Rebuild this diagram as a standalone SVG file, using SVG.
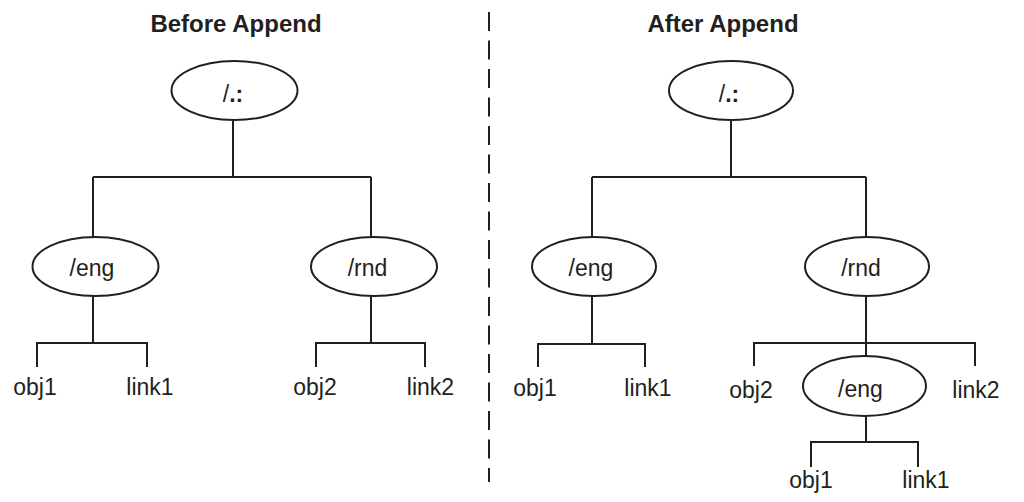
<svg xmlns="http://www.w3.org/2000/svg" width="1024" height="502" viewBox="0 0 1024 502">
<style>
.bg{fill:#ffffff}
.node{fill:#ffffff;stroke:#231f20;stroke-width:2}
.conn{fill:none;stroke:#231f20;stroke-width:2}
.dash{fill:none;stroke:#231f20;stroke-width:2;stroke-dasharray:19 9.5}
text{font-family:"Liberation Sans",Arial,sans-serif;font-size:23px;fill:#231f20;text-anchor:middle}
.title{font-weight:bold;font-size:24px}
.b{font-weight:bold}
</style>
<rect class="bg" x="0" y="0" width="1024" height="502"/>
<text class="title" x="236" y="32">Before Append</text>
<text class="title" x="723" y="32">After Append</text>
<line class="dash" x1="489" y1="12" x2="489" y2="482"/>
<g id="connectors">
<path class="conn" d="M233,120 V177 M93,177 H371 M93,177 V237 M371,177 V237"/>
<path class="conn" d="M93,296 V343 M37,343 H147 M37,342 V367 M147,342 V367"/>
<path class="conn" d="M371,296 V343 M316,343 H425 M316,342 V367 M425,342 V367"/>
<path class="conn" d="M731,120 V177 M592,177 H866 M592,177 V237 M866,177 V237"/>
<path class="conn" d="M592,296 V344 M538,344 H645 M538,343 V367 M645,343 V367"/>
<path class="conn" d="M866,296 V356 M754,343 H975 M754,342 V366 M975,342 V366"/>
<path class="conn" d="M866,416 V442 M811,442 H918 M811,441 V467 M918,441 V467"/>
</g>
<g id="root-before">
<ellipse class="node" cx="234.5" cy="90.5" rx="63" ry="29.5"/>
<text x="233" y="102">/<tspan class="b">.:</tspan></text>
</g>
<g id="eng-before">
<ellipse class="node" cx="95.5" cy="266.5" rx="63" ry="29.5"/>
<text x="92" y="276">/eng</text>
</g>
<g id="rnd-before">
<ellipse class="node" cx="374" cy="266.5" rx="63" ry="29.5"/>
<text x="367.5" y="276">/rnd</text>
</g>
<g id="obj1-before"><text x="35" y="395">obj1</text></g>
<g id="link1-before"><text x="150" y="395">link1</text></g>
<g id="obj2-before"><text x="315" y="395">obj2</text></g>
<g id="link2-before"><text x="430.5" y="395">link2</text></g>
<g id="root-after">
<ellipse class="node" cx="731" cy="90.5" rx="62" ry="29.5"/>
<text x="729" y="102">/<tspan class="b">.:</tspan></text>
</g>
<g id="eng-after">
<ellipse class="node" cx="594" cy="266.5" rx="62" ry="29.5"/>
<text x="591" y="276">/eng</text>
</g>
<g id="rnd-after">
<ellipse class="node" cx="867" cy="266.5" rx="62" ry="29.5"/>
<text x="861" y="276">/rnd</text>
</g>
<g id="obj1-after"><text x="535" y="396">obj1</text></g>
<g id="link1-after"><text x="648" y="396">link1</text></g>
<g id="obj2-after"><text x="751" y="398">obj2</text></g>
<g id="link2-after"><text x="976" y="398">link2</text></g>
<g id="eng-nested">
<ellipse class="node" cx="864.5" cy="386" rx="61.5" ry="30"/>
<text x="860.5" y="397">/eng</text>
</g>
<g id="obj1-nested"><text x="811" y="488">obj1</text></g>
<g id="link1-nested"><text x="926" y="488">link1</text></g>
</svg>
